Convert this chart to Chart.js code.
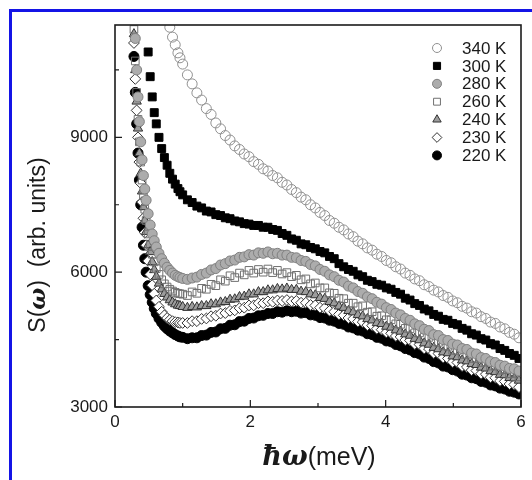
<!DOCTYPE html>
<html>
<head>
<meta charset="utf-8">
<script src="https://cdn.jsdelivr.net/npm/chart.js@4.4.1/dist/chart.umd.min.js"></script>
<style>
  html, body { margin: 0; padding: 0; background: #fff; }
  #frame { position: absolute; left: 9px; top: 9px; width: 523px; height: 471px;
           border-top: 3px solid #1414e6; border-left: 3px solid #1414e6; box-sizing: border-box; }
  #wrap { position: absolute; left: 0; top: 0; width: 532px; height: 480px; }
</style>
</head>
<body>
<div id="frame"></div>
<div id="wrap"><canvas id="chart" width="532" height="480"></canvas></div>
<script>
// Energy axis (meV), shared by all temperatures
const energy = [
  0.26, 0.28, 0.30, 0.32, 0.34, 0.36, 0.38, 0.40, 0.42, 0.44, 0.46, 0.49,
  0.52, 0.55, 0.58, 0.61, 0.65, 0.69, 0.73, 0.77, 0.81, 0.85, 0.89, 0.93, 0.96,
  1.00, 1.07, 1.14, 1.21, 1.28, 1.35, 1.42, 1.49, 1.56, 1.63, 1.70, 1.77,
  1.84, 1.91, 1.98, 2.05, 2.12, 2.19, 2.26, 2.33, 2.40, 2.47, 2.54, 2.61,
  2.68, 2.75, 2.82, 2.89, 2.96, 3.03, 3.10, 3.17, 3.24, 3.31, 3.38, 3.45,
  3.52, 3.59, 3.66, 3.73, 3.80, 3.87, 3.94, 4.01, 4.08, 4.15, 4.22, 4.29,
  4.36, 4.43, 4.50, 4.57, 4.64, 4.71, 4.78, 4.85, 4.92, 4.99, 5.06, 5.13,
  5.20, 5.27, 5.34, 5.41, 5.48, 5.55, 5.62, 5.69, 5.76, 5.83, 5.90, 5.97
];

const s340 = [
  null, null, null, null, null, null, null, null, null, null, null, null,
  null, null, null, null, null, null, null, null, 11450, 11230, 11060, 10880, 10770,
  10630, 10390, 10190, 9990, 9830, 9640, 9510, 9320, 9190, 9040, 8940, 8810,
  8730, 8630, 8570, 8460, 8400, 8300, 8250, 8150, 8100, 8000, 7940, 7840,
  7770, 7670, 7610, 7500, 7430, 7330, 7260, 7150, 7090, 7000, 6940, 6850,
  6790, 6690, 6630, 6540, 6490, 6400, 6350, 6260, 6210, 6120, 6070, 5980,
  5930, 5850, 5810, 5720, 5680, 5600, 5560, 5480, 5440, 5360, 5320, 5240,
  5200, 5120, 5090, 5010, 4970, 4890, 4860, 4780, 4740, 4660, 4620, 4540
];
const s300 = [
  null, null, null, null, null, null, null, null, null, null, null, 10900,
  10350, 9900, 9550, 9300, 9000, 8750, 8550, 8380, 8200, 8070, 7960, 7860, 7790,
  7720, 7610, 7550, 7470, 7430, 7360, 7340, 7280, 7260, 7210, 7190, 7140,
  7120, 7080, 7070, 7040, 7040, 7000, 7000, 6950, 6930, 6860, 6820, 6740,
  6710, 6630, 6610, 6550, 6520, 6460, 6430, 6350, 6300, 6190, 6120, 6060,
  6020, 5940, 5900, 5820, 5790, 5730, 5710, 5650, 5620, 5550, 5510, 5420,
  5380, 5300, 5260, 5180, 5140, 5060, 5020, 4950, 4930, 4860, 4830, 4750,
  4710, 4630, 4600, 4520, 4490, 4410, 4380, 4300, 4260, 4190, 4150, 4080
];
const s280 = [
  null, null, 11200, 10500, 9900, 9350, 8900, 8500, 8150, 7850, 7600, 7300,
  7050, 6850, 6700, 6560, 6420, 6300, 6200, 6110, 6040, 5980, 5930, 5900, 5880,
  5860, 5840, 5870, 5890, 5950, 5980, 6050, 6080, 6160, 6190, 6250, 6270,
  6330, 6340, 6390, 6380, 6430, 6420, 6450, 6410, 6420, 6380, 6380, 6330,
  6320, 6260, 6240, 6170, 6140, 6060, 6020, 5940, 5900, 5820, 5780, 5690,
  5650, 5570, 5530, 5450, 5410, 5330, 5290, 5210, 5170, 5090, 5050, 4970,
  4930, 4850, 4810, 4730, 4700, 4610, 4590, 4500, 4480, 4400, 4380, 4300,
  4280, 4200, 4180, 4100, 4080, 4010, 3990, 3930, 3910, 3860, 3850, 3800
];
const s260 = [
  null, 11400, 10700, 10000, 9400, 8900, 8450, 8050, 7700, 7400, 7150, 6850,
  6600, 6400, 6230, 6080, 5950, 5830, 5740, 5670, 5620, 5580, 5550, 5530, 5520,
  5510, 5480, 5560, 5530, 5640, 5620, 5730, 5700, 5830, 5800, 5920, 5880,
  5980, 5940, 6040, 5980, 6060, 6000, 6070, 5990, 6040, 5960, 5990, 5900,
  5930, 5830, 5850, 5740, 5760, 5650, 5650, 5540, 5530, 5420, 5410, 5310,
  5310, 5230, 5250, 5110, 5120, 5020, 5030, 4940, 4940, 4850, 4840, 4750,
  4740, 4650, 4650, 4550, 4550, 4450, 4440, 4360, 4350, 4260, 4260, 4170,
  4170, 4080, 4080, 3990, 4000, 3910, 3910, 3820, 3830, 3740, 3750, 3670
];
const s240 = [
  null, 11300, 10500, 9800, 9200, 8650, 8200, 7800, 7450, 7150, 6900, 6600,
  6450, 6230, 6050, 5900, 5750, 5620, 5520, 5440, 5380, 5330, 5290, 5260, 5250,
  5230, 5210, 5230, 5220, 5250, 5250, 5290, 5290, 5330, 5340, 5390, 5400,
  5450, 5460, 5510, 5510, 5560, 5560, 5600, 5600, 5630, 5620, 5640, 5610,
  5610, 5570, 5560, 5510, 5490, 5430, 5410, 5340, 5310, 5240, 5210, 5140,
  5110, 5050, 5020, 4960, 4930, 4870, 4850, 4790, 4770, 4710, 4680, 4620,
  4590, 4520, 4490, 4420, 4390, 4320, 4290, 4220, 4200, 4130, 4110, 4040,
  4020, 3960, 3940, 3880, 3860, 3800, 3780, 3720, 3710, 3650, 3640, 3590
];
const s230 = [
  null, 11100, 10300, 9600, 9000, 8450, 7980, 7560, 7200, 6880, 6600, 6250,
  5950, 5710, 5520, 5370, 5230, 5120, 5040, 4980, 4940, 4910, 4890, 4880, 4870,
  4870, 4870, 4910, 4910, 4960, 4970, 5020, 5030, 5080, 5090, 5140, 5150,
  5200, 5210, 5260, 5260, 5310, 5310, 5350, 5340, 5370, 5360, 5380, 5350,
  5360, 5320, 5320, 5270, 5260, 5210, 5200, 5140, 5120, 5060, 5040, 4980,
  4960, 4900, 4890, 4820, 4810, 4740, 4720, 4660, 4640, 4580, 4560, 4490,
  4480, 4400, 4390, 4300, 4290, 4200, 4190, 4100, 4080, 4000, 3990, 3910,
  3890, 3820, 3810, 3740, 3730, 3660, 3650, 3580, 3570, 3510, 3500, 3440
];
const s220 = [
  null, 10800, 10000, 9300, 8650, 8050, 7500, 7000, 6600, 6300, 6000, 5700,
  5500, 5330, 5190, 5080, 4970, 4880, 4800, 4740, 4690, 4650, 4610, 4580, 4560,
  4550, 4520, 4540, 4540, 4590, 4600, 4660, 4670, 4740, 4750, 4820, 4830,
  4900, 4910, 4970, 4980, 5030, 5040, 5080, 5080, 5120, 5110, 5140, 5120,
  5130, 5090, 5100, 5050, 5040, 4990, 4980, 4930, 4910, 4860, 4840, 4780,
  4760, 4710, 4690, 4630, 4610, 4550, 4530, 4470, 4450, 4390, 4360, 4300,
  4270, 4210, 4180, 4110, 4080, 4010, 3980, 3910, 3890, 3830, 3800, 3730,
  3710, 3650, 3630, 3570, 3550, 3490, 3470, 3420, 3400, 3350, 3330, 3290
];

const temps = ['340 K', '300 K', '280 K', '260 K', '240 K', '230 K', '220 K'];
const series = [s340, s300, s280, s260, s240, s230, s220];

const xMajor = [0, 2, 4, 6];
const xMinor = [1, 3, 5];
const yMajor = [3000, 6000, 9000];
const yMinor = [4500, 7500, 10500];

// Marker look for each temperature (same order as temps)
const markers = [
  { pointStyle: 'circle',   radius: 5.0, fill: 'rgba(255,255,255,0)', stroke: '#909090' },
  { pointStyle: 'rect',     radius: 5.6, fill: '#000',                stroke: '#000' },
  { pointStyle: 'circle',   radius: 5.0, fill: '#acacac',             stroke: '#808080' },
  { pointStyle: 'rect',     radius: 5.4, fill: 'rgba(255,255,255,0)', stroke: '#707070' },
  { pointStyle: 'triangle', radius: 5.4, fill: '#9c9c9c',             stroke: '#333' },
  { pointStyle: 'rectRot',  radius: 5.4, fill: '#fff',                stroke: '#333' },
  { pointStyle: 'circle',   radius: 5.0, fill: '#000',                stroke: '#000' }
];

const SANS = '"Liberation Sans", Arial, sans-serif';
const SERIF = '"DejaVu Serif", "Liberation Serif", serif';

// Frame, inward ticks, axis titles and legend
const decorations = {
  id: 'decorations',
  afterDraw(chart) {
    const { ctx, chartArea: a, scales: { x, y } } = chart;
    ctx.save();

    ctx.strokeStyle = '#1c1c1c';
    ctx.lineWidth = 1.6;
    ctx.strokeRect(a.left, a.top, a.right - a.left, a.bottom - a.top);

    ctx.lineWidth = 1.2;
    ctx.beginPath();
    xMajor.forEach(v => { const p = x.getPixelForValue(v); ctx.moveTo(p, a.bottom); ctx.lineTo(p, a.bottom - 7); });
    xMinor.forEach(v => { const p = x.getPixelForValue(v); ctx.moveTo(p, a.bottom); ctx.lineTo(p, a.bottom - 4); });
    yMajor.forEach(v => { const p = y.getPixelForValue(v); ctx.moveTo(a.left, p); ctx.lineTo(a.left + 7, p); });
    yMinor.forEach(v => { const p = y.getPixelForValue(v); ctx.moveTo(a.left, p); ctx.lineTo(a.left + 4, p); });
    ctx.stroke();

    // y title: S(ω)  (arb. units)
    ctx.fillStyle = '#1a1a1a';
    ctx.textBaseline = 'alphabetic';
    const yParts = [
      ['S(', '23px ' + SANS],
      ['\u03c9', 'italic bold 23px ' + SERIF],
      [')  (arb. units)', '23px ' + SANS]
    ];
    ctx.save();
    ctx.translate(45, 245);
    ctx.rotate(-Math.PI / 2);
    let w = 0;
    yParts.forEach(([t, f]) => { ctx.font = f; w += ctx.measureText(t).width; });
    let cx = -w / 2;
    yParts.forEach(([t, f]) => { ctx.font = f; ctx.fillText(t, cx, 0); cx += ctx.measureText(t).width; });
    ctx.restore();

    // x title: ħω(meV)
    const xParts = [
      ['\u0127\u03c9', 'italic bold 27px ' + SERIF],
      ['(meV)', '25px ' + SANS]
    ];
    w = 0;
    xParts.forEach(([t, f]) => { ctx.font = f; w += ctx.measureText(t).width; });
    cx = 319 - w / 2;
    xParts.forEach(([t, f]) => { ctx.font = f; ctx.fillText(t, cx, 465); cx += ctx.measureText(t).width; });

    // legend
    ctx.font = '17px ' + SANS;
    ctx.textBaseline = 'middle';
    temps.forEach((label, i) => {
      const m = markers[i];
      const ly = 48 + i * 17.9;
      ctx.fillStyle = m.fill;
      ctx.strokeStyle = m.stroke;
      ctx.lineWidth = 1;
      Chart.helpers.drawPoint(ctx, { pointStyle: m.pointStyle, radius: m.radius * 0.9, rotation: 0, borderWidth: 1 }, 437, ly);
      ctx.fillStyle = '#1a1a1a';
      ctx.fillText(label, 462, ly + 1);
    });

    ctx.restore();
  }
};

const datasets = temps.map((label, i) => ({
  label: label,
  data: energy.map((e, j) => ({ x: e, y: series[i][j] })).filter(p => p.y !== null),
  pointStyle: markers[i].pointStyle,
  pointRadius: markers[i].radius,
  pointBackgroundColor: markers[i].fill,
  pointBorderColor: markers[i].stroke,
  pointBorderWidth: 1,
  showLine: false
}));

new Chart(document.getElementById('chart'), {
  type: 'scatter',
  data: { datasets: datasets },
  options: {
    responsive: false,
    animation: false,
    layout: { padding: { top: 25, right: 11, left: 0, bottom: 0 } },
    plugins: { legend: { display: false }, tooltip: { enabled: false } },
    scales: {
      x: {
        type: 'linear',
        min: 0,
        max: 6,
        grid: { display: false, drawTicks: false },
        border: { display: false },
        afterBuildTicks: scale => { scale.ticks = xMajor.map(v => ({ value: v })); },
        afterFit: scale => { scale.height = 73; },
        ticks: { padding: 5, color: '#1a1a1a', font: { family: SANS, size: 17 }, callback: v => String(v) }
      },
      y: {
        type: 'linear',
        min: 3000,
        max: 11500,
        grid: { display: false, drawTicks: false },
        border: { display: false },
        afterBuildTicks: scale => { scale.ticks = yMajor.map(v => ({ value: v })); },
        afterFit: scale => { scale.width = 115; },
        ticks: { padding: 7, color: '#1a1a1a', font: { family: SANS, size: 17 }, callback: v => String(v) }
      }
    }
  },
  plugins: [decorations]
});
</script>
</body>
</html>
